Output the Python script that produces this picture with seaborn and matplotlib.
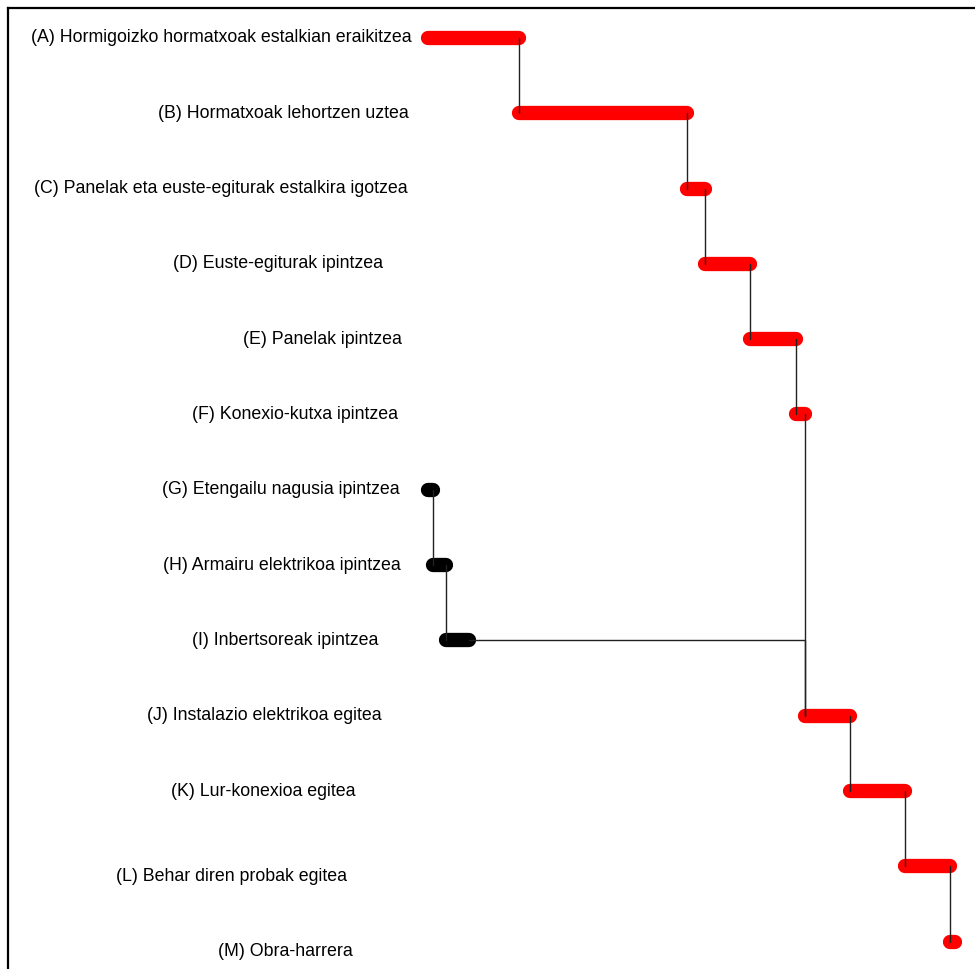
import numpy as np
import pandas as pd
import seaborn as sns
import matplotlib.pyplot as plt
import matplotlib.transforms as mtransforms

# ====================== TASK DATA (days) ============================ #

tasks = ["(A) Hormigoizko hormatxoak estalkian eraikitzea",
         "(B) Hormatxoak lehortzen uztea",
         "(C) Panelak eta euste-egiturak estalkira igotzea",
         "(D) Euste-egiturak ipintzea",
         "(E) Panelak ipintzea",
         "(F) Konexio-kutxa ipintzea",
         "(G) Etengailu nagusia ipintzea",
         "(H) Armairu elektrikoa ipintzea",
         "(I) Inbertsoreak ipintzea",
         "(J) Instalazio elektrikoa egitea",
         "(K) Lur-konexioa egitea",
         "(L) Behar diren probak egitea",
         "(M) Obra-harrera"]
starts = [0, 20, 57, 61, 71, 81, 0, 1, 4, 83, 93, 105, 115]
durations = [20, 37, 4, 10, 10, 2, 1, 3, 5, 10, 12, 10, 1]
critical = [True, True, True, True, True, True, False, False, False,
            True, True, True, True]
# (predecessor, successor) as row indices
links = [(0, 1), (1, 2), (2, 3), (3, 4), (4, 5), (5, 9),
         (6, 7), (7, 8), (8, 9), (9, 10), (10, 11), (11, 12)]

# label layout (figure pixel centre, vertical nudge in rows)
label_px = [221, 283, 221, 278, 322, 295, 281, 282, 285, 264, 263, 232, 285]
label_dy = [0, 0, 0, 0, 0, 0, 0, 0, 0, 0, 0, 0.14, 0.13]

# ====================== BUILD LONG DF ============================ #

rows = []
for i, t in enumerate(tasks):
    rows.append({"task": t, "day": starts[i], "row": i, "crit": critical[i]})
    rows.append({"task": t, "day": starts[i] + durations[i], "row": i, "crit": critical[i]})
df = pd.DataFrame(rows)

# ====================== PLOT ============================ #

sns.set_style("white")
W, H = 975, 969
fig = plt.figure(figsize=(W / 100, H / 100), dpi=100)
ax = fig.add_axes([8 / W, -6 / H, (990 - 8) / W, (975 - 8) / H])

sns.lineplot(data=df, x="day", y="row", units="task", estimator=None,
             hue="crit", palette={True: "#ff0000", False: "#000000"},
             linewidth=10.3, solid_capstyle="round", sort=False,
             legend=False, ax=ax, zorder=2)

# dependency connectors
for p, s in links:
    x0 = starts[p] + durations[p]
    x1 = starts[s]
    ax.plot([x0, x1, x1], [p, p, s], color="#222222", lw=1.0, zorder=3)

# task labels: x in figure fraction, y in data rows
tr = mtransforms.blended_transform_factory(fig.transFigure, ax.transData)
for i, t in enumerate(tasks):
    ax.text(label_px[i] / W, i + label_dy[i], t, transform=tr,
            ha="center", va="center", fontsize=12.8,
            family="Liberation Sans", color="black")

px_per_day = 4.54
x0_px = 428
ax.set_xlim((8 - x0_px) / px_per_day, (990 - x0_px) / px_per_day)
row_px = 75.3
ax.set_ylim((975 - 38) / row_px, (8 - 38) / row_px)

ax.set_xlabel("")
ax.set_ylabel("")
ax.set_xticks([])
ax.set_yticks([])
for side in ["right", "bottom"]:
    ax.spines[side].set_visible(False)
for side in ["left", "top"]:
    ax.spines[side].set_linewidth(1.6)
    ax.spines[side].set_color("black")

fig.savefig("out.png", dpi=100)
